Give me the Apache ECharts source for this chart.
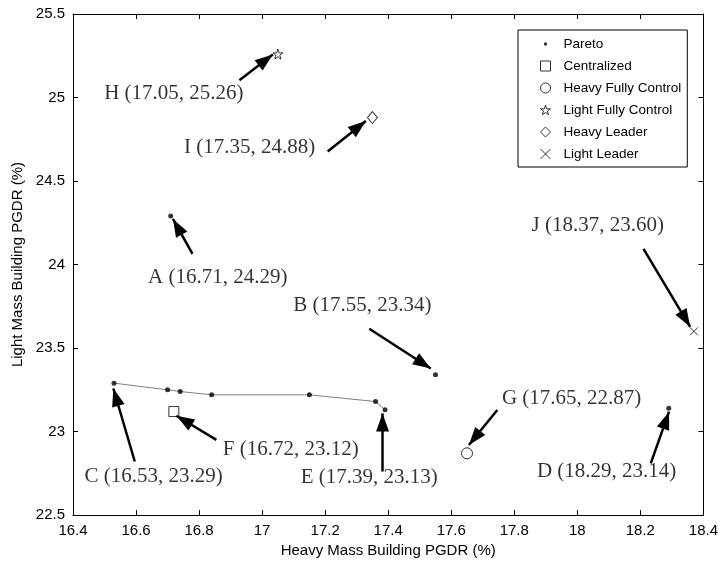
<!DOCTYPE html>
<html><head><meta charset="utf-8">
<script src="https://cdn.jsdelivr.net/npm/echarts@6/dist/echarts.min.js"></script>
<style>html,body{margin:0;padding:0;background:#fff}#c{width:721px;height:563px}</style>
</head><body><div id="c"></div>
<script>
// ---- tick values ----
const xTicks = [16.4, 16.6, 16.8, 17, 17.2, 17.4, 17.6, 17.8, 18, 18.2, 18.4];
const yTicks = [22.5, 23, 23.5, 24, 24.5, 25, 25.5];

// ---- series data ----
const paretoPoints = [[16.71, 24.29], [17.55, 23.34], [16.53, 23.29], [18.29, 23.14], [17.39, 23.13],
                      [16.70, 23.25], [16.74, 23.24], [16.84, 23.22], [17.15, 23.22], [17.36, 23.18]];
const paretoFront = [[16.53, 23.29], [16.70, 23.25], [16.74, 23.24], [16.84, 23.22], [17.15, 23.22], [17.36, 23.18], [17.39, 23.13]];
const centralized = [[16.72, 23.12]];
const heavyFullyControl = [[17.65, 22.87]];
const lightFullyControl = [[17.05, 25.26]];
const heavyLeader = [[17.35, 24.88]];
const lightLeader = [[18.37, 23.60]];

// ---- annotations (data units) ----
const annLetters = ['A', 'B', 'C', 'D', 'E', 'F', 'G', 'H', 'I', 'J'];
const annPoints = [[16.71, 24.29], [17.55, 23.34], [16.53, 23.29], [18.29, 23.14], [17.39, 23.13],
                   [16.72, 23.12], [17.65, 22.87], [17.05, 25.26], [17.35, 24.88], [18.37, 23.60]];
const annLabelPos = [[16.859, 23.925], [17.318, 23.754], [16.656, 22.733], [18.093, 22.760], [17.340, 22.727],
                     [17.091, 22.894], [17.982, 23.201], [16.720, 25.025], [16.960, 24.700], [18.065, 24.231]];
const annArrowFrom = [[16.779, 24.064], [17.340, 23.616], [16.596, 22.821], [18.233, 22.810], [17.382, 22.761],
                      [16.855, 22.950], [17.746, 23.129], [16.928, 25.103], [17.208, 24.677], [18.210, 24.094]];
const annArrowTo = [[16.717, 24.273], [17.535, 23.378], [16.528, 23.258], [18.291, 23.119], [17.382, 23.109],
                    [16.728, 23.095], [17.656, 22.920], [17.034, 25.258], [17.329, 24.860], [18.358, 23.627]];

const legendNames = ['Pareto', 'Centralized', 'Heavy Fully Control', 'Light Fully Control', 'Heavy Leader', 'Light Leader'];

const starPath = 'path://M50,0 L61.23,34.55 L97.55,34.55 L68.17,55.9 L79.39,90.45 L50,69.1 L20.61,90.45 L31.83,55.9 L2.45,34.55 L38.77,34.55 Z';
const crossPath = 'path://M0,0 L10,10 M10,0 L0,10';
const dotLegendPath = 'path://M0,0 M12,12 M4,6 a2,2 0 1,0 4,0 a2,2 0 1,0 -4,0 Z';

const sans = 'Liberation Sans, Arial, sans-serif';
const serif = 'Liberation Serif, Times New Roman, serif';
const xMin = xTicks[0], xMax = xTicks[xTicks.length - 1], xInt = +(xTicks[1] - xTicks[0]).toFixed(6);
const yMin = yTicks[0], yMax = yTicks[yTicks.length - 1], yInt = +(yTicks[1] - yTicks[0]).toFixed(6);

function axisCommon(showLabel) {
  return {
    type: 'value',
    axisLine: { show: true, onZero: false, lineStyle: { color: '#000', width: 1 } },
    axisTick: { show: true, inside: true, length: 5, lineStyle: { color: '#000', width: 1 } },
    axisLabel: { show: showLabel, color: '#000', fontFamily: sans, fontSize: 15 },
    splitLine: { show: false }
  };
}

const openStyle = { color: '#fff', borderColor: '#000', borderWidth: 1 };
const crossStyle = { color: 'none', borderColor: '#000', borderWidth: 1 };

const option = {
  animation: false,
  backgroundColor: '#fff',
  grid: { left: 73, right: 16, top: 14, bottom: 46 },
  legend: {
    orient: 'vertical', left: 518, top: 30,
    padding: [6, 6, 5, 20], itemGap: 6, itemWidth: 10, itemHeight: 10,
    borderColor: '#000', borderWidth: 1, backgroundColor: '#fff',
    selectedMode: false,
    textStyle: { fontFamily: sans, fontSize: 13.5, color: '#000', padding: [0, 0, 0, 8], lineHeight: 16 },
    data: [
      { name: legendNames[0], icon: dotLegendPath, itemStyle: { color: '#000', borderWidth: 0 } },
      { name: legendNames[1], icon: 'rect', itemStyle: openStyle },
      { name: legendNames[2], icon: 'circle', itemStyle: openStyle },
      { name: legendNames[3], icon: starPath, itemStyle: openStyle },
      { name: legendNames[4], icon: 'diamond', itemStyle: openStyle },
      { name: legendNames[5], icon: crossPath, itemStyle: crossStyle }
    ]
  },
  xAxis: [
    Object.assign(axisCommon(true), { position: 'bottom', min: xMin, max: xMax, interval: xInt,
      name: 'Heavy Mass Building PGDR (%)', nameLocation: 'middle', nameGap: 24,
      nameTextStyle: { fontFamily: sans, fontSize: 15, color: '#000' } }),
    Object.assign(axisCommon(false), { position: 'top', min: xMin, max: xMax, interval: xInt })
  ],
  yAxis: [
    Object.assign(axisCommon(true), { position: 'left', min: yMin, max: yMax, interval: yInt,
      name: 'Light Mass Building PGDR (%)', nameLocation: 'middle', nameGap: 32,
      nameTextStyle: { fontFamily: sans, fontSize: 15, color: '#000' } }),
    Object.assign(axisCommon(false), { position: 'right', min: yMin, max: yMax, interval: yInt })
  ],
  series: [
    { type: 'line', name: 'ParetoFront', data: paretoFront, showSymbol: false, silent: true,
      lineStyle: { color: '#808080', width: 1 }, z: 2 },
    { type: 'scatter', name: legendNames[0], data: paretoPoints, symbol: 'circle', symbolSize: 5,
      itemStyle: { color: '#000' }, z: 3 },
    { type: 'scatter', name: legendNames[1], data: centralized, symbol: 'rect', symbolSize: 10, itemStyle: openStyle, z: 3 },
    { type: 'scatter', name: legendNames[2], data: heavyFullyControl, symbol: 'circle', symbolSize: 11, itemStyle: openStyle, z: 3 },
    { type: 'scatter', name: legendNames[3], data: lightFullyControl, symbol: starPath, symbolSize: 10, itemStyle: openStyle, z: 3 },
    { type: 'scatter', name: legendNames[4], data: heavyLeader, symbol: 'diamond', symbolSize: [10, 12], itemStyle: openStyle, z: 3 },
    { type: 'scatter', name: legendNames[5], data: lightLeader, symbol: crossPath, symbolSize: 8, itemStyle: crossStyle, z: 3 },
    { type: 'scatter', name: 'annotations', silent: true, symbolSize: 1,
      itemStyle: { color: 'rgba(0,0,0,0)', borderWidth: 0 }, z: 4,
      data: annLetters.map((l, i) => ({
        name: l + ' (' + annPoints[i][0].toFixed(2) + ', ' + annPoints[i][1].toFixed(2) + ')',
        value: annLabelPos[i]
      })),
      label: { show: true, position: 'inside', formatter: '{b}', fontFamily: serif, fontSize: 21,
               color: '#000', textBorderWidth: 0, textBorderColor: 'transparent' },
      markLine: {
        silent: true, animation: false, precision: 4,
        label: { show: false },
        lineStyle: { color: '#000', width: 2.5, type: 'solid' },
        symbol: ['none', 'triangle'],
        data: annLetters.map((l, i) => [
          { coord: annArrowFrom[i], symbol: 'none' },
          { coord: annArrowTo[i], symbol: 'triangle', symbolSize: [13, 18], symbolOffset: [0, 9] }
        ])
      }
    }
  ]
};

const chart = echarts.init(document.getElementById('c'), null, { renderer: 'canvas' });
chart.setOption(option);
</script>
</body></html>
